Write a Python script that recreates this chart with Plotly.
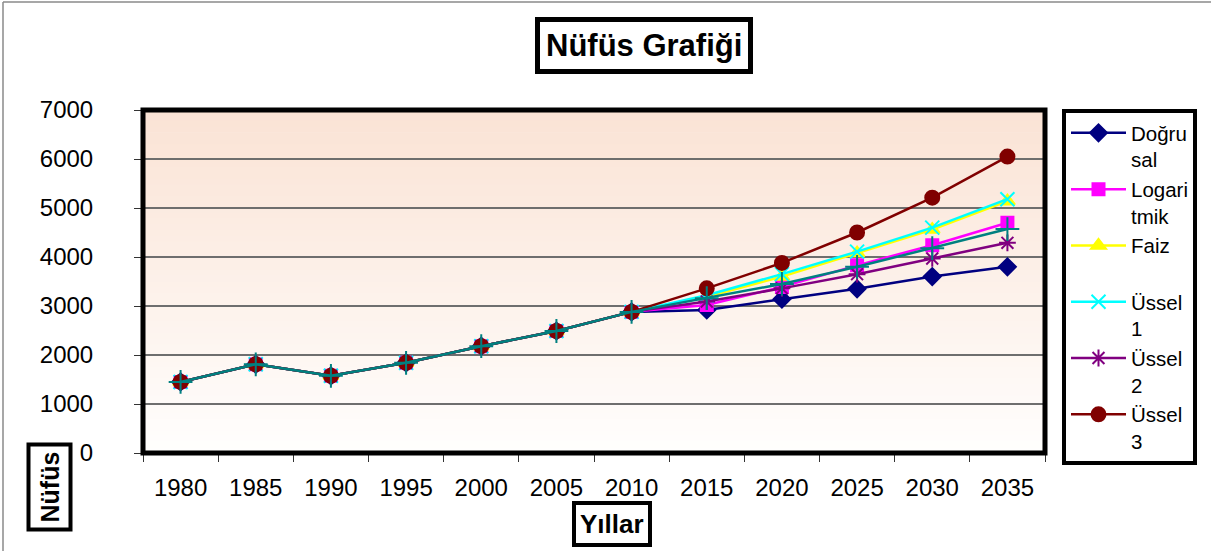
import plotly.graph_objects as go

# Category axis: census years and projection years
yillar = ["1980", "1985", "1990", "1995", "2000", "2005", "2010",
          "2015", "2020", "2025", "2030", "2035"]

# Observed population 1980-2010 (shared by every projection)
gecmis = [1450, 1810, 1575, 1840, 2180, 2490, 2880]

# Projections 2015-2035
dogrusal = [2920, 3140, 3350, 3600, 3800]
logaritmik = [3020, 3390, 3830, 4240, 4700]
faiz = [3190, 3600, 4080, 4560, 5140]
ussel1 = [3220, 3650, 4110, 4600, 5180]
ussel2 = [3090, 3360, 3650, 3970, 4290]
ussel3 = [3360, 3880, 4500, 5210, 6050]
ortalama = [3160, 3450, 3800, 4180, 4570]

y_ticks = [0, 1000, 2000, 3000, 4000, 5000, 6000, 7000]

FONT = "Arial, Liberation Sans, sans-serif"

# plot-area box in pixels
L, R, T, B = 143, 1045, 110, 453


def px(x):
    return (x - L) / (R - L)


def py(y):
    return (B - y) / (B - T)


seriler = [
    ("Doğru<br>sal", dogrusal, "#000080", "diamond", 13, True),
    ("Logari<br>tmik", logaritmik, "#FF00FF", "square", 12, True),
    ("Faiz<br>\u00a0", faiz, "#FFFF00", "triangle-up", 13, True),
    ("Üssel<br>1", ussel1, "#00FFFF", "x-thin-open", 14, True),
    ("Üssel<br>2", ussel2, "#800080", "asterisk-open", 14, True),
    ("Üssel<br>3", ussel3, "#800000", "circle", 14, True),
    ("Ortalama", ortalama, "#008080", "cross-thin-open", 17, False),
]

fig = go.Figure()
for ad, gelecek, renk, sembol, boy, goster in seriler:
    fig.add_trace(go.Scatter(
        x=yillar,
        y=gecmis + gelecek,
        name=ad,
        mode="lines+markers",
        line=dict(color=renk, width=2.5),
        marker=dict(symbol=sembol, size=boy, color=renk,
                    line=dict(color=renk, width=2)),
        showlegend=goster,
    ))

# peach-to-white vertical gradient behind the plot area
shapes = []
n = 60
top_c = (250, 227, 213)
bot_c = (255, 254, 253)
for i in range(n):
    f = i / (n - 1)
    c = tuple(round(bot_c[k] + (top_c[k] - bot_c[k]) * f) for k in range(3))
    shapes.append(dict(type="rect", xref="x domain", yref="y domain",
                       x0=0, x1=1, y0=i / n, y1=(i + 1) / n + 0.002,
                       fillcolor="rgb(%d,%d,%d)" % c, line=dict(width=0),
                       layer="below"))

# heavy frame around plot area
shapes.append(dict(type="rect", xref="x domain", yref="y domain",
                   x0=0, x1=1, y0=0, y1=1,
                   line=dict(color="black", width=5), layer="above"))

# thin outer chart border (left and top)
shapes.append(dict(type="line", xref="paper", yref="paper",
                   x0=px(3), x1=px(3), y0=py(2), y1=py(560),
                   line=dict(color="#8a8a8a", width=1.5)))
shapes.append(dict(type="line", xref="paper", yref="paper",
                   x0=px(3), x1=px(1215), y0=py(2), y1=py(2),
                   line=dict(color="#8a8a8a", width=1.5)))

annotations = [
    dict(text="<b>Nüfüs Grafiği</b>", x=px(644), y=py(45),
         xref="paper", yref="paper", xanchor="center", yanchor="middle",
         showarrow=False, font=dict(family=FONT, size=31, color="black"),
         bgcolor="white", bordercolor="black", borderwidth=5, borderpad=6),
    dict(text="<b>Yıllar</b>", x=px(612), y=py(524),
         xref="paper", yref="paper", xanchor="center", yanchor="middle",
         showarrow=False, font=dict(family=FONT, size=26, color="black"),
         bgcolor="white", bordercolor="black", borderwidth=4, borderpad=4),
    dict(text="<b>Nüfüs</b>", x=px(49.5), y=py(487), textangle=-90,
         xref="paper", yref="paper", xanchor="center", yanchor="middle",
         showarrow=False, font=dict(family=FONT, size=25, color="black"),
         bgcolor="white", bordercolor="black", borderwidth=4, borderpad=5),
]

fig.update_layout(
    width=1211, height=551,
    margin=dict(l=L, r=1211 - R, t=T, b=551 - B),
    paper_bgcolor="white",
    plot_bgcolor="white",
    font=dict(family=FONT, size=24, color="black"),
    shapes=shapes,
    annotations=annotations,
    legend=dict(
        x=px(1062), y=py(109), xanchor="left", yanchor="top",
        xref="paper", yref="paper",
        bgcolor="white", bordercolor="black", borderwidth=4,
        font=dict(family=FONT, size=20.5, color="black"),
        valign="top", tracegroupgap=0, itemwidth=55,
        maxheight=1.0,
    ),
    xaxis=dict(
        type="category", tickson="boundaries", range=[-0.5, 11.5],
        ticks="outside", ticklen=8, tickcolor="#333", tickwidth=1,
        ticklabelstandoff=18, showgrid=False, showline=False,
        tickfont=dict(family=FONT, size=24, color="black"),
        fixedrange=True,
    ),
    yaxis=dict(
        range=[0, 7000], tickvals=y_ticks,
        ticks="outside", ticklen=8, tickcolor="#333", tickwidth=1,
        ticklabelstandoff=36,
        showgrid=True, gridcolor="#6e6e6e", gridwidth=1.5,
        zeroline=False, showline=False,
        tickfont=dict(family=FONT, size=24, color="black"),
        fixedrange=True,
    ),
)

fig.write_html("out.html")
